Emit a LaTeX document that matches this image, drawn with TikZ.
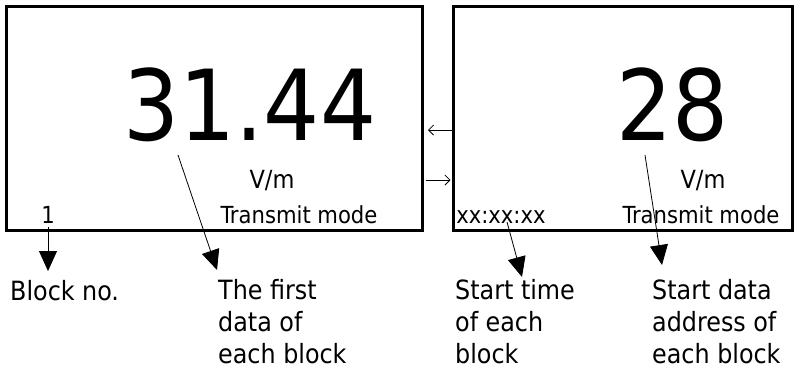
\documentclass[tikz,border=0pt]{standalone}
\usepackage{fontspec}
\setmainfont{DejaVu Sans Condensed}
\usetikzlibrary{arrows.meta}

\begin{document}
\begin{tikzpicture}[x=1pt,y=-1pt,
    screen/.style={draw,line width=3pt,inner sep=0pt},
    bignum/.style={anchor=base,font=\fontsize{98}{98}\selectfont},
    unitlbl/.style={anchor=base,font=\fontsize{25}{25}\selectfont},
    smalllbl/.style={anchor=base,font=\fontsize{23.5}{23.5}\selectfont},
    caption/.style={anchor=base west,align=left,inner sep=0pt,font=\fontsize{26.5}{32}\selectfont},
    callout/.style={line width=0.8pt,-{Triangle[length=20pt,width=18pt]}},
    link/.style={line width=0.8pt,-{Straight Barb[length=5pt,width=10pt]}}]
    \useasboundingbox (0,0) rectangle (795,368);

    % the two screens
    \node[screen,minimum width=416pt,minimum height=224pt] (scrA) at (214.5,118.5) {};
    \node[screen,minimum width=339pt,minimum height=224pt] (scrB) at (623,118.5) {};

    \node[bignum] (valA) at (250,140) {31.44};
    \node[unitlbl] (unitA) at (272,188) {V/m};
    \node[smalllbl] (modeA) at (299,223) {Transmit mode};
    \node[smalllbl] (blkno) at (48,223) {1};

    \node[bignum] (valB) at (673,140) {28};
    \node[unitlbl] (unitB) at (703,188) {V/m};
    \node[smalllbl] (modeB) at (701,223) {Transmit mode};
    \node[smalllbl] (stime) at (501,223) {xx:xx:xx};

    \draw[link,shorten >=4pt] (scrB.west |- 0,130) -- (scrA.east |- 0,130);
    \draw[link,shorten <=1.5pt,shorten >=1.5pt] (scrA.east |- 0,180) -- (scrB.west |- 0,180);

    % captions below (base = last line)
    \node[caption] (capno) at (10,300) {Block no.};
    \node[caption] (capdata) at (218,363) {The first\\data of\\each block};
    \node[caption] (captime) at (455,363) {Start time\\of each\\block};
    \node[caption] (capaddr) at (652,363) {Start data\\address of\\each block};

    \coordinate (numA) at (178,155);
    \coordinate (numB) at (645,155);
    \coordinate (timept) at (507,222);
    \coordinate (tipno) at (48,271);
    \coordinate (tipdata) at (217,270);
    \coordinate (tiptime) at (522,277);
    \coordinate (tipaddr) at (662,265);

    \draw[callout] (blkno.south) -- (tipno);
    \draw[callout] (numA) -- (tipdata);
    \draw[callout] (timept) -- (tiptime);
    \draw[callout] (numB) -- (tipaddr);
\end{tikzpicture}
\end{document}
